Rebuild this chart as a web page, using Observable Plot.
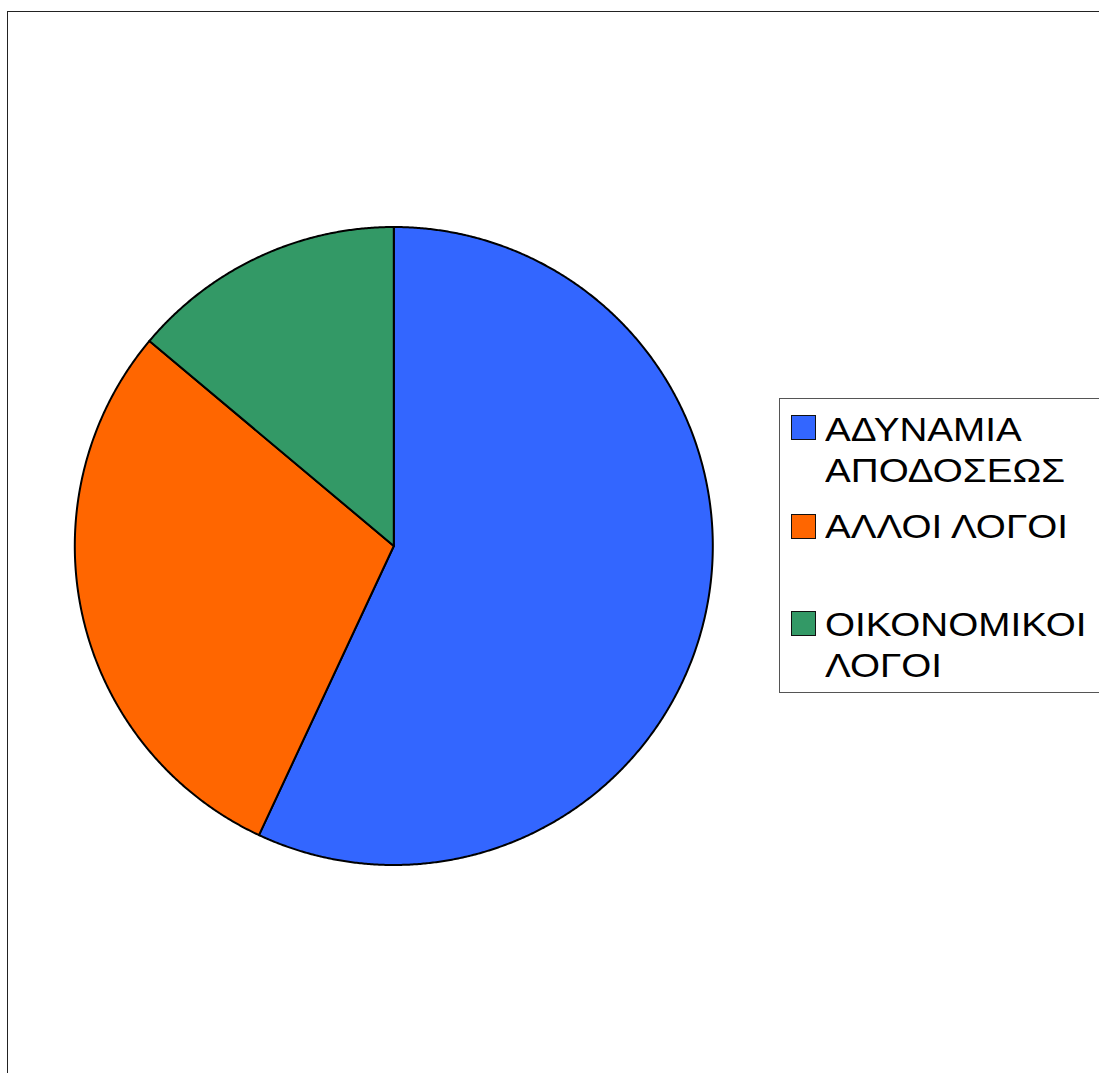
<!DOCTYPE html>
<html>
<head>
<meta charset="utf-8">
<script src="https://cdn.jsdelivr.net/npm/d3@7"></script>
<script src="https://cdn.jsdelivr.net/npm/@observablehq/plot@0.6"></script>
<style>
  html, body { margin: 0; padding: 0; background: #fff; overflow: hidden; width: 1099px; height: 1073px; }
  #wrap { position: relative; width: 1099px; height: 1073px; overflow: hidden; font-family: "Liberation Sans", Arial, sans-serif; }
  #frame { position: absolute; left: 7px; top: 11px; width: 1300px; height: 1300px; border: 1.6px solid #222; box-sizing: border-box; }
  #chart { position: absolute; left: 0; top: 0; }
  #legend { position: absolute; left: 779px; top: 398px; width: 400px; height: 295px; border: 1px solid #555; box-sizing: border-box; background: #fff; }
  .sw { position: absolute; width: 25px; height: 25px; border: 1.5px solid #111; box-sizing: border-box; }
  .lt { position: absolute; font-size: 33px; line-height: 41px; color: #000; white-space: pre; transform: scaleX(1.17); transform-origin: 0 0; }
</style>
</head>
<body>
<div id="wrap">
  <div id="frame"></div>
  <div id="chart"></div>
  <div id="legend"></div>
</div>
<script>
// Data
const categories = ["ΑΔΥΝΑΜΙΑ ΑΠΟΔΟΣΕΩΣ", "ΑΛΛΟΙ ΛΟΓΟΙ", "ΟΙΚΟΝΟΜΙΚΟΙ ΛΟΓΟΙ"];
const legendLabels = ["ΑΔΥΝΑΜΙΑ\nΑΠΟΔΟΣΕΩΣ", "ΑΛΛΟΙ ΛΟΓΟΙ", "ΟΙΚΟΝΟΜΙΚΟΙ\nΛΟΓΟΙ"];
const values = [41, 21, 10];
const colors = ["#3366FF", "#FF6600", "#339966"];

// Layout
const W = 1099, H = 1073;
const cx = 393.3, cy = 545.5, R = 319;

// Build slice outlines from data via d3.pie (angles clockwise from 12 o'clock)
const arcs = d3.pie().sort(null).value(d => d.value)(
  categories.map((c, i) => ({category: c, value: values[i]}))
);
const pts = [];
arcs.forEach(a => {
  const cat = a.data.category;
  pts.push({cat, x: 0, y: 0});
  const n = Math.max(2, Math.ceil((a.endAngle - a.startAngle) / 0.005));
  for (let k = 0; k <= n; k++) {
    const t = a.startAngle + (a.endAngle - a.startAngle) * k / n;
    pts.push({cat, x: Math.sin(t), y: Math.cos(t)});
  }
  pts.push({cat, x: 0, y: 0});
});

const chart = Plot.plot({
  width: W,
  height: H,
  margin: 0,
  x: {domain: [-1, 1], range: [cx - R, cx + R], axis: null},
  y: {domain: [-1, 1], range: [cy + R, cy - R], axis: null},
  color: {domain: categories, range: colors},
  style: {background: "transparent", overflow: "visible"},
  marks: [
    Plot.line(pts, {x: "x", y: "y", z: "cat", fill: "cat", stroke: "#000", strokeWidth: 2, strokeLinejoin: "round", curve: "linear"})
  ]
});
document.getElementById("chart").appendChild(chart);

// Legend (HTML)
const legend = document.getElementById("legend");
const swTops = [414, 513, 610];
const txTops = [408, 505, 603];
categories.forEach((c, i) => {
  const sw = document.createElement("div");
  sw.className = "sw";
  sw.style.left = (790 - 779) + "px";
  sw.style.top = (swTops[i] - 398) + "px";
  sw.style.background = colors[i];
  legend.appendChild(sw);
  const tx = document.createElement("div");
  tx.className = "lt";
  tx.style.left = (824 - 779) + "px";
  tx.style.top = (txTops[i] - 398) + "px";
  tx.textContent = legendLabels[i];
  legend.appendChild(tx);
});
</script>
</body>
</html>
